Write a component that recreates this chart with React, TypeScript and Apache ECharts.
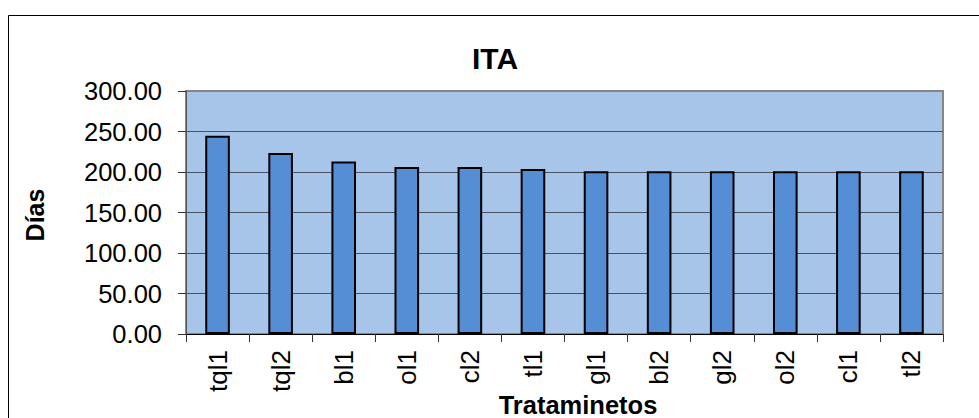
import React, { useEffect, useRef } from "react";
import * as echarts from "echarts";

const categories = ["tql1", "tql2", "bl1", "ol1", "cl2", "tl1", "gl1", "bl2", "gl2", "ol2", "cl1", "tl2"];
const values = [244.7, 223.5, 213.1, 206.2, 206.2, 203.7, 201, 201, 201, 201, 201, 201];
const titleText = "ITA";
const yAxisName = "Días";
const xAxisName = "Trataminetos";

const FONT = "'Liberation Sans', Arial, Helvetica, sans-serif";

export default function App() {
  const ref = useRef<HTMLDivElement>(null);
  useEffect(() => {
    if (!ref.current) return;
    document.body.style.overflow = "hidden";
    const chart = echarts.init(ref.current, undefined, { renderer: "svg" });
    chart.setOption({
      animation: false,
      backgroundColor: "#ffffff",
      grid: {
        left: 186,
        top: 91,
        right: 36,
        bottom: 84,
        show: true,
        backgroundColor: "#A7C4E9",
        borderColor: "#868686",
        borderWidth: 2,
      },
      xAxis: {
        type: "category",
        data: categories,
        boundaryGap: true,
        axisLine: { show: true, lineStyle: { color: "#000000", width: 1 } },
        axisTick: { show: true, alignWithLabel: false, length: 8, lineStyle: { color: "#333333", width: 1 } },
        axisLabel: {
          rotate: 90,
          margin: 16,
          color: "#000000",
          fontSize: 26,
          fontFamily: FONT,
          interval: 0,
        },
        splitLine: { show: false },
      },
      yAxis: {
        type: "value",
        min: 0,
        max: 300,
        interval: 50,
        axisLine: { show: true, lineStyle: { color: "#555555", width: 1 } },
        axisTick: { show: true, length: 8, lineStyle: { color: "#333333", width: 1 } },
        axisLabel: {
          margin: 24,
          color: "#000000",
          fontSize: 25.5,
          fontFamily: FONT,
          formatter: (v: number) => v.toFixed(2),
        },
        splitLine: {
          show: true,
          lineStyle: {
            color: ["#4a5363", "#4a5363", "#4a5363", "#4a5363", "#4a5363", "#4a5363", "#868686"],
            width: 1,
          },
        },
      },
      series: [
        {
          type: "bar",
          data: values,
          barWidth: "39%",
          itemStyle: { color: "#558ED5", borderColor: "#000000", borderWidth: 2 },
        },
      ],
      graphic: [
        {
          type: "rect",
          silent: true,
          shape: { x: 8.5, y: 15.5, width: 1100, height: 600 },
          style: { fill: "none", stroke: "#000000", lineWidth: 1 },
          z: -1,
        },
        {
          type: "text",
          x: 495,
          y: 58,
          style: {
            text: titleText,
            fill: "#000000",
            font: `bold 30px ${FONT}`,
            textAlign: "center",
            textVerticalAlign: "middle",
          },
        },
        {
          type: "text",
          x: 35,
          y: 215,
          rotation: Math.PI / 2,
          style: {
            text: yAxisName,
            fill: "#000000",
            font: `bold 25px ${FONT}`,
            textAlign: "center",
            textVerticalAlign: "middle",
          },
        },
        {
          type: "text",
          x: 578,
          y: 404.5,
          style: {
            text: xAxisName,
            fill: "#000000",
            font: `bold 25.5px ${FONT}`,
            textAlign: "center",
            textVerticalAlign: "middle",
          },
        },
      ],
    });
    return () => chart.dispose();
  }, []);
  return (
    <div
      ref={ref}
      style={{ position: "fixed", left: 0, top: 0, width: 979, height: 418 }}
    />
  );
}
